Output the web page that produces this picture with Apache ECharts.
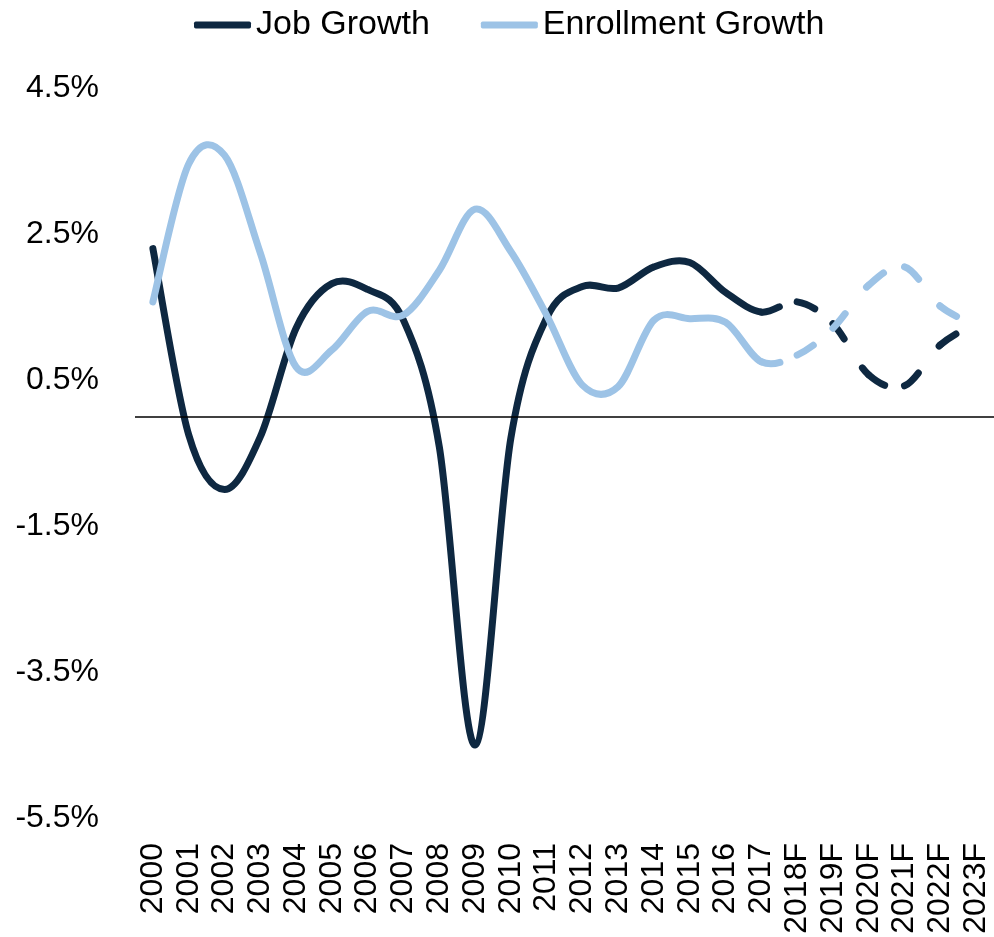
<!DOCTYPE html>
<html><head><meta charset="UTF-8">
<title>Job vs Enrollment Growth</title>
<script src="https://cdn.jsdelivr.net/npm/echarts@6/dist/echarts.min.js"></script>
<style>
    *{ padding:0; margin:0; }
    html,body{ width:100%; height:100%; background:#fff; }
    #chart{ width:994px; height:937px; }
</style>
</head>
<body>
<div id="chart"></div>
<script>
    // categories
    var years = ['2000','2001','2002','2003','2004','2005','2006','2007','2008','2009',
                 '2010','2011','2012','2013','2014','2015','2016','2017',
                 '2018F','2019F','2020F','2021F','2022F','2023F'];
    // values in %
    var jobGrowth = [2.3, -0.25, -1.0, -0.28, 1.21, 1.82, 1.74, 1.32, -0.41, -4.5,
                     -0.3, 1.35, 1.78, 1.76, 2.05, 2.11, 1.70, 1.43,
                     1.57, 1.27, 0.57, 0.42, 0.98, 1.28];
    var enrollGrowth = [1.57, 3.46, 3.58, 2.24, 0.68, 0.91, 1.44, 1.39, 2.0, 2.84,
                        2.26, 1.39, 0.43, 0.41, 1.32, 1.34, 1.29, 0.75,
                        0.84, 1.21, 1.80, 2.05, 1.51, 1.25];
    var lastActual = 17;   // forecast (dashed) drawn from 2017 on
    var yLabels = [-5.5, -3.5, -1.5, 0.5, 2.5, 4.5];

    var navy = '#0E2841', light = '#9DC3E6';
    var font = 'Liberation Sans';
    var dashPattern = [19, 34];

    // bezier pieces through every point, tangents from the neighbours
    // (the line series' own smoothing clamps the peaks flat)
    function segPath(api, values, from, to) {
        var n = values.length, p = [];
        for (var k = 0; k < n; k++) p.push(api.coord([k, values[k]]));
        function tan(k) {
            var a = p[Math.max(k - 1, 0)], b = p[Math.min(k + 1, n - 1)];
            return [(b[0] - a[0]) / 6, (b[1] - a[1]) / 6];
        }
        var d = 'M' + p[from][0] + ' ' + p[from][1];
        for (var k = from; k < to; k++) {
            var t0 = tan(k), t1 = tan(k + 1);
            d += ' C' + (p[k][0] + t0[0]) + ' ' + (p[k][1] + t0[1]) + ' ' +
                 (p[k + 1][0] - t1[0]) + ' ' + (p[k + 1][1] - t1[1]) + ' ' +
                 p[k + 1][0] + ' ' + p[k + 1][1];
        }
        return d;
    }

    function curveSeries(name, values, from, to, color, dashed) {
        var data = [];
        for (var i = from; i <= to; i++) data.push([i, values[i]]);
        return {
            name: name,
            type: 'custom',
            coordinateSystem: 'cartesian2d',
            encode: { x: 0, y: 1 },
            data: data,
            itemStyle: { color: color },
            silent: true,
            renderItem: function(params, api) {
                var k = from + params.dataIndex;
                var a, b;
                if (dashed) {
                    // dash pattern restarts at every point, one piece per segment
                    if (k >= to) return null;
                    a = k; b = k + 1;
                } else {
                    if (params.dataIndex !== 0) return null;
                    a = from; b = to;
                }
                return {
                    type: 'path',
                    shape: { pathData: segPath(api, values, a, b) },
                    style: {
                        fill: 'none',
                        stroke: color,
                        lineWidth: 7,
                        lineCap: 'round',
                        lineJoin: 'round',
                        lineDash: dashed ? dashPattern : null
                    }
                };
            }
        };
    }

    var series = [
        {
            // zero line
            name: 'zero',
            type: 'line',
            data: [],
            markLine: {
                silent: true,
                symbol: 'none',
                label: { show: false },
                lineStyle: { color: '#000', width: 1.5, type: 'solid' },
                data: [{ yAxis: 0 }]
            }
        },
        curveSeries('Job Growth', jobGrowth, 0, lastActual, navy, false),
        curveSeries('Enrollment Growth', enrollGrowth, 0, lastActual, light, false),
        curveSeries('Job Growth F', jobGrowth, lastActual, years.length - 1, navy, true),
        curveSeries('Enrollment Growth F', enrollGrowth, lastActual, years.length - 1, light, true)
    ];

    var myChart = echarts.init(document.getElementById('chart'));
    myChart.setOption({
        animation: false,
        legend: {
            data: [
                { name: 'Job Growth', icon: 'roundRect' },
                { name: 'Enrollment Growth', icon: 'roundRect' }
            ],
            left: 189,
            top: 3,
            itemWidth: 57,
            itemHeight: 7,
            itemGap: 51,
            textStyle: { fontFamily: font, fontSize: 34, color: '#000' }
        },
        grid: { left: 135, top: 88, width: 862, height: 730 },
        xAxis: {
            type: 'category',
            data: years,
            boundaryGap: true,
            axisLine: { show: false, onZero: false },
            axisTick: { show: false },
            axisLabel: {
                interval: 0,
                rotate: 90,
                margin: 25,
                fontFamily: font,
                fontSize: 32,
                color: '#000'
            }
        },
        yAxis: {
            type: 'value',
            min: -5.5,
            max: 4.5,
            interval: 0.5,
            axisLine: { show: false },
            axisTick: { show: false },
            splitLine: { show: false },
            axisLabel: {
                margin: 36,
                fontFamily: font,
                fontSize: 32,
                color: '#000',
                formatter: function(v){
                    for (var i = 0; i < yLabels.length; i++) {
                        if (Math.abs(yLabels[i] - v) < 1e-6) return v.toFixed(1) + '%';
                    }
                    return '';
                }
            }
        },
        series: series
    });
</script>
</body></html>
